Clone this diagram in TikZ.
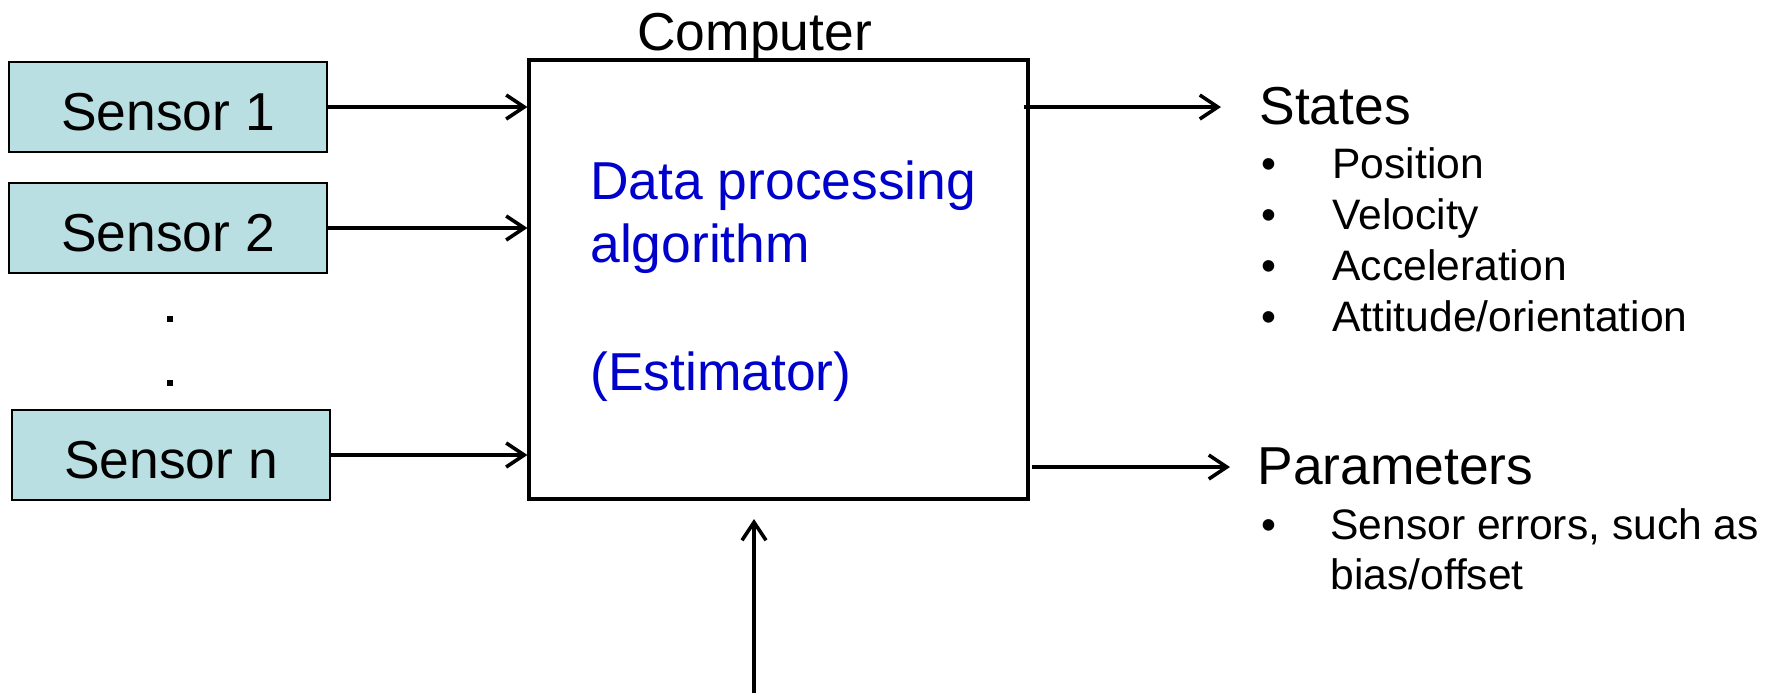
\documentclass[tikz,border=0pt]{standalone}
\usepackage{fontspec}
\setmainfont{Liberation Sans}
\usetikzlibrary{arrows.meta}
\definecolor{sensorfill}{RGB}{185,223,226}
\definecolor{algblue}{RGB}{0,0,204}
\begin{document}
\begin{tikzpicture}[x=0.5pt,y=-0.5pt,
  sensorbox/.style={draw=black, line width=1pt, fill=sensorfill, rectangle,
    minimum width=159pt, minimum height=45pt, inner sep=0pt,
    text height=23pt, text depth=0pt, font=\fontsize{26.7pt}{30pt}\selectfont},
  compbox/.style={draw=black, line width=1.6pt, rectangle, inner sep=0pt,
    minimum width=249.5pt, minimum height=219.5pt},
  bigtxt/.style={inner sep=0pt, anchor=base west, font=\fontsize{26.7pt}{30pt}\selectfont},
  algtxt/.style={bigtxt, text=algblue},
  smalltxt/.style={inner sep=0pt, anchor=base west, font=\fontsize{21.3pt}{25pt}\selectfont},
  bul/.style={inner sep=0pt, anchor=base, font=\fontsize{21.3pt}{25pt}\selectfont},
  arr/.style={line width=1.8pt, -{Straight Barb[length=9pt,width=12pt,line width=1.8pt]}},
  vdot/.style={fill=black, inner sep=0pt, minimum size=3pt, rectangle}]
\useasboundingbox (0,0) rectangle (1773,693);

% sensors
\node[sensorbox] (s1) at (168,107) {Sensor 1};
\node[sensorbox] (s2) at (168,228) {Sensor 2};
\node[sensorbox] (sn) at (171,455) {Sensor n};
\node[vdot] (d1) at (170,319) {};
\node[vdot] (d2) at (170,383) {};

% computer with the estimator
\node[compbox] (comp) at (778.5,279.5) {};
\node[bigtxt] (complbl) at (637,50) {Computer};
\node[algtxt] (alg1) at (590,199) {Data processing};
\node[algtxt] (alg2) at (590,262) {algorithm};
\node[algtxt] (alg3) at (590,390) {(Estimator)};

% inputs
\draw[arr] (s1.east) -- (s1.east -| comp.west);
\draw[arr] (s2.east) -- (s2.east -| comp.west);
\draw[arr] (sn.east) -- (sn.east -| comp.west);

% outputs
\coordinate (stend) at (1221,107);
\coordinate (paend) at (1230,467);
\draw[arr] ([xshift=-3pt]comp.east |- stend) -- (stend);
\draw[arr] ([xshift=1pt]comp.east |- paend) -- (paend);

% input from below
\coordinate (botstart) at (754,693);
\coordinate (botend) at (754,519);
\draw[arr] (botstart) -- (botend);

% states list
\node[bigtxt] (states) at (1259,124) {States};
\node[bul] (b1) at (1269,178) {•};
\node[smalltxt] (t1) at (1332,178) {Position};
\node[bul] (b2) at (1269,229) {•};
\node[smalltxt] (t2) at (1332,229) {Velocity};
\node[bul] (b3) at (1269,280) {•};
\node[smalltxt] (t3) at (1332,280) {Acceleration};
\node[bul] (b4) at (1269,331) {•};
\node[smalltxt] (t4) at (1332,331) {Attitude/orientation};

% parameters list
\node[bigtxt] (params) at (1257,484) {Parameters};
\node[bul] (b5) at (1269,539) {•};
\node[smalltxt] (t5) at (1330,539) {Sensor errors, such as};
\node[smalltxt] (t6) at (1330,589) {bias/offset};
\end{tikzpicture}
\end{document}
